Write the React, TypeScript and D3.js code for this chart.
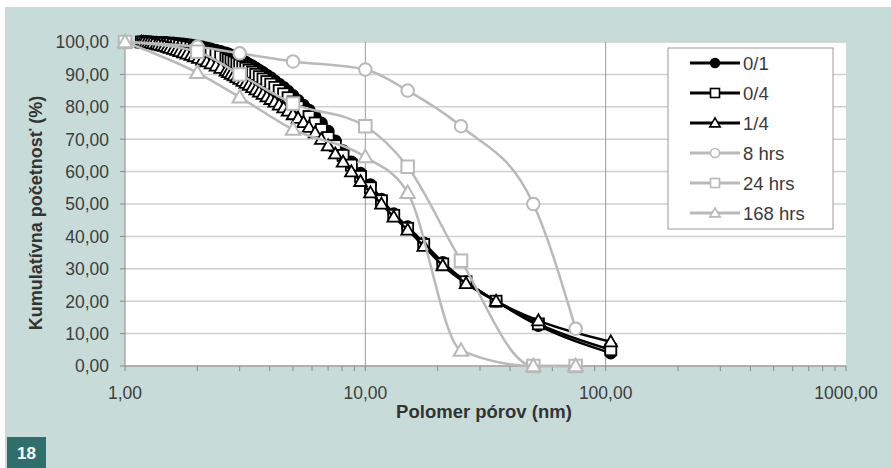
import * as d3 from "d3"

// pore radius (nm) of the mercury intrusion steps, shared by the three black series
const poreSizes = [
  1.17, 1.19, 1.22, 1.25, 1.28, 1.31, 1.35, 1.38, 1.42, 1.46, 1.5, 1.54, 1.59, 1.64, 1.69, 1.75, 1.81, 1.88, 1.94, 2.02,
  2.1, 2.19, 2.28, 2.39, 2.5, 2.63, 2.69, 2.76, 2.84, 2.92, 3.0, 3.09, 3.18, 3.28, 3.39, 3.5, 3.62, 3.75, 3.89, 4.04,
  4.2, 4.38, 4.57, 4.77, 5.0, 5.25, 5.53, 5.83, 6.18, 6.56, 7.0, 7.5, 8.08, 8.75, 9.55, 10.5, 11.67, 13.13, 15.0, 17.5,
  21.0, 26.25, 35.0, 52.5, 105.0,
]

const s01 = [
  100, 100, 100, 100, 100, 99.95, 99.95, 99.9, 99.9, 99.85, 99.8, 99.75, 99.7, 99.6, 99.5, 99.4, 99.25, 99.1, 98.9, 98.7,
  98.5, 98.2, 97.9, 97.5, 97.1, 96.6, 96.3, 96, 95.6, 95.2, 94.8, 94.3, 93.8, 93.2, 92.6, 92, 91.3, 90.6, 89.8, 89,
  88, 87, 86, 84.8, 83.5, 82, 80.5, 79, 77, 75, 72.5, 69.5, 66.5, 63, 59.5, 56, 51.5, 47, 43, 38,
  32, 26, 20, 12.5, 4,
]

const s04 = [
  100, 100, 99.95, 99.9, 99.9, 99.85, 99.8, 99.75, 99.7, 99.6, 99.5, 99.4, 99.25, 99.1, 98.9, 98.7, 98.5, 98.3, 98, 97.7,
  97.4, 97, 96.6, 96.1, 95.6, 95, 94.6, 94.2, 93.8, 93.4, 92.9, 92.4, 91.9, 91.3, 90.7, 90, 89.3, 88.6, 87.8, 87,
  86, 85, 84, 82.8, 81.5, 80, 78.5, 77, 75, 73, 70.5, 68, 65, 62, 58.5, 55, 51, 46.5, 42.5, 37.5,
  31.5, 26, 20, 13, 5,
]

const s14 = [
  100, 99.9, 99.8, 99.7, 99.6, 99.45, 99.3, 99.1, 98.9, 98.7, 98.4, 98.1, 97.8, 97.5, 97.1, 96.7, 96.3, 95.9, 95.5, 95,
  94.5, 93.9, 93.3, 92.6, 91.9, 91.1, 90.6, 90.1, 89.6, 89.1, 88.5, 87.9, 87.3, 86.7, 86, 85.3, 84.6, 83.9, 83.1, 82.3,
  81.5, 80.6, 79.7, 78.7, 77.6, 76.5, 75.2, 73.7, 72, 70, 68, 65.5, 63, 60, 57, 53.5, 50, 46, 42, 37,
  31, 25.5, 20, 14, 7.5,
]

// hydration time series
const timeSizes = [1, 2, 3, 5, 10, 15, 25, 50, 75]
const s8h = [100, 98.5, 96.5, 94, 91.5, 85, 74, 50, 11.5]
const s24h = [100, 97, 90, 81, 74, 61.5, 32.5, 0, 0]
const s168h = [100, 90.5, 83, 73, 64.5, 53.5, 4.8, 0, 0]

const seriesNames = ["0/1", "0/4", "1/4", "8 hrs", "24 hrs", "168 hrs"]
const yTicks = [0, 10, 20, 30, 40, 50, 60, 70, 80, 90, 100]
const xTicks = [1, 10, 100, 1000]

const FONT = "'Liberation Sans', Arial, sans-serif"
const BLACK = "#000"
const GREY = "#b9b9b9"

type Shape = "circle" | "square" | "triangle"

const series = [
  { name: seriesNames[0], xs: poreSizes, ys: s01, color: BLACK, shape: "circle" as Shape, fill: BLACK },
  { name: seriesNames[1], xs: poreSizes, ys: s04, color: BLACK, shape: "square" as Shape, fill: "#fff" },
  { name: seriesNames[2], xs: poreSizes, ys: s14, color: BLACK, shape: "triangle" as Shape, fill: "#fff" },
  { name: seriesNames[3], xs: timeSizes, ys: s8h, color: GREY, shape: "circle" as Shape, fill: "#fff" },
  { name: seriesNames[4], xs: timeSizes, ys: s24h, color: GREY, shape: "square" as Shape, fill: "#fff" },
  { name: seriesNames[5], xs: timeSizes, ys: s168h, color: GREY, shape: "triangle" as Shape, fill: "#fff" },
]

const fmt = (v: number) => v.toFixed(2).replace(".", ",")

function Marker({ shape, x, y, size, stroke, fill, sw }: any) {
  const h = size / 2
  if (shape === "circle") return <circle cx={x} cy={y} r={h} fill={fill} stroke={stroke} strokeWidth={sw} />
  if (shape === "square")
    return <rect x={x - h} y={y - h} width={size} height={size} fill={fill} stroke={stroke} strokeWidth={sw} />
  const t = h * 1.15
  return (
    <path
      d={`M${x},${y - t}L${x + t},${y + h * 0.85}L${x - t},${y + h * 0.85}Z`}
      fill={fill}
      stroke={stroke}
      strokeWidth={sw}
      strokeLinejoin="miter"
    />
  )
}

export default function App() {
  const width = 891
  const height = 468
  const x = d3.scaleLog().domain([1, 1000]).range([125, 846])
  const y = d3.scaleLinear().domain([0, 100]).range([366, 42])
  const minorTicks = x.ticks()

  const line = d3
    .line<[number, number]>()
    .x((d) => x(d[0]))
    .y((d) => y(d[1]))
    .curve(d3.curveMonotoneX)

  const legendX = 668
  const legendY = 48

  return (
    <svg
      width={width}
      height={height}
      style={{ position: "absolute", left: 0, top: 0, background: "#fff" }}
      fontFamily={FONT}
    >
      <rect x={5} y={7} width={width - 5} height={height - 7} fill="#c7dcd9" />
      <rect x={x(1)} y={y(100)} width={x(1000) - x(1)} height={y(0) - y(100)} fill="#fff" />

      {/* horizontal grid */}
      {yTicks.map((t) => (
        <line key={"gy" + t} x1={x(1)} x2={x(1000)} y1={y(t)} y2={y(t)} stroke="#cfcfcf" strokeWidth={1.5} />
      ))}
      {/* vertical grid at decades */}
      {[10, 100].map((t) => (
        <line key={"gx" + t} x1={x(t)} x2={x(t)} y1={y(100)} y2={y(0)} stroke="#9a9a9a" strokeWidth={1} />
      ))}

      {/* axes */}
      <line x1={x(1)} x2={x(1)} y1={y(100)} y2={y(0)} stroke="#8a8a8a" strokeWidth={1} />
      <line x1={x(1)} x2={x(1000)} y1={y(0)} y2={y(0)} stroke="#8a8a8a" strokeWidth={1} />
      {yTicks.map((t) => (
        <g key={"yt" + t}>
          <line x1={x(1) - 5} x2={x(1)} y1={y(t)} y2={y(t)} stroke="#8a8a8a" />
          <text x={109} y={y(t)} dy="0.36em" textAnchor="end" fontSize={17.5} fill="#3d3d3d">
            {fmt(t)}
          </text>
        </g>
      ))}
      {minorTicks.map((t, i) => (
        <line key={"xt" + i} x1={x(t)} x2={x(t)} y1={y(0)} y2={y(0) + 5} stroke="#8a8a8a" />
      ))}
      {xTicks.map((t) => (
        <text key={"xl" + t} x={x(t)} y={393} dy="0.36em" textAnchor="middle" fontSize={17.5} fill="#3d3d3d">
          {fmt(t)}
        </text>
      ))}

      {/* series */}
      {series.map((s) => {
        const pts = s.xs.map((v, i) => [v, s.ys[i]] as [number, number])
        const black = s.color === BLACK
        return (
          <g key={s.name}>
            <path d={line(pts) || ""} fill="none" stroke={s.color} strokeWidth={2.5} />
            {pts.map((p, i) => (
              <Marker
                key={i}
                shape={s.shape}
                x={x(p[0])}
                y={y(p[1])}
                size={black ? 11 : 12.5}
                stroke={s.color}
                fill={s.fill}
                sw={black ? 1.8 : 2}
              />
            ))}
          </g>
        )
      })}

      {/* legend */}
      <rect x={legendX} y={legendY} width={165} height={181} fill="#fff" stroke="#9a9a9a" strokeWidth={1} />
      {series.map((s, i) => {
        const ly = 63 + i * 30
        return (
          <g key={"lg" + s.name}>
            <line x1={690} x2={740} y1={ly} y2={ly} stroke={s.color} strokeWidth={3} />
            <Marker shape={s.shape} x={715} y={ly} size={9} stroke={s.color} fill={s.fill} sw={1.6} />
            <text x={743} y={ly} dy="0.36em" fontSize={18.5} fill="#3a3a3a">
              {s.name}
            </text>
          </g>
        )
      })}

      {/* axis titles */}
      <text x={484} y={411} dy="0.36em" textAnchor="middle" fontSize={18.5} fontWeight="bold" fill="#333">
        Polomer pórov (nm)
      </text>
      <text
        transform={`translate(36,213) rotate(-90)`}
        dy="0.36em"
        textAnchor="middle"
        fontSize={18}
        fontWeight="bold"
        fill="#333"
      >
        Kumulatívna početnosť (%)
      </text>

      {/* figure number */}
      <rect x={7} y={437} width={39} height={31} fill="#2e6f6c" />
      <text x={26.5} y={453} dy="0.36em" textAnchor="middle" fontSize={17} fontWeight="bold" fill="#fff">
        18
      </text>
    </svg>
  )
}
